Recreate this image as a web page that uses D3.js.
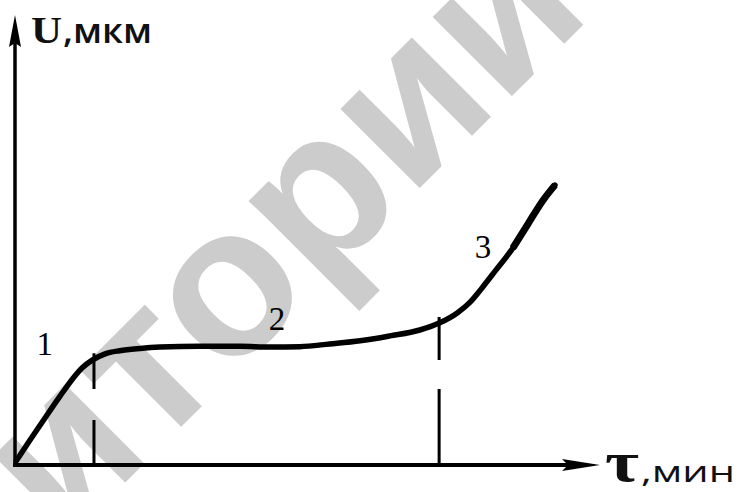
<!DOCTYPE html>
<html><head><meta charset="utf-8">
<script src="https://cdn.jsdelivr.net/npm/d3@7/dist/d3.min.js"></script>
<style>html,body{margin:0;padding:0;background:#fff;}svg{display:block;}</style>
</head><body>
<svg id="c" width="740" height="492"></svg>
<script>
// ---- data (time τ, wear U, arbitrary units) ----
const tau  = [0.2, 2.6, 5.1, 7.7, 9.7, 11.5, 13.2, 15.4, 17.9, 21.4, 24.8, 31.6, 38.5, 43.6, 48.7, 53.8, 59.0, 64.1, 69.2, 72.6, 75.6, 77.8, 79.8, 82.2, 85.1, 87.7, 90.3, 92.3];
const wear = [0.9, 5.6, 10.4, 15.3, 18.9, 21.6, 23.3, 24.7, 25.4, 25.9, 26.2, 26.4, 26.4, 26.2, 26.3, 26.9, 27.6, 28.7, 30.0, 31.6, 33.8, 36.2, 39.3, 43.3, 48.2, 53.6, 58.9, 62.2];
const stageBounds = [13.5, 72.5];          // vertical dashed lines
const stageLabels = ["1", "2", "3"];
const stageLabelTau  = [5.1, 44.8, 80.0];
const stageLabelWear = [24.4, 30.0, 46.0];
const xAxisMax = 100, yAxisMax = 100;
const yLabel = ["U", ",мкм"];
const xLabel = ["τ", ",мин"];
const watermark = "Репозиторий";

const svg = d3.select("#c");
const x = d3.scaleLinear().domain([0, 100]).range([15, 600]);
const y = d3.scaleLinear().domain([0, 100]).range([465, 15]);

// ---- watermark ----
const wmSize = 212;
const wm = svg.append("text")
  .attr("font-family", "Liberation Sans, Arial, sans-serif")
  .attr("font-weight", "bold")
  .attr("font-size", wmSize)
  .attr("fill", "#cccccc")
  .text(watermark);
{
  const node = wm.node();
  const idx = 7; // second "о"
  const before = node.getSubStringLength(0, idx);
  const w = node.getSubStringLength(idx, 1);
  const cx = before + w / 2, cy = -wmSize * 0.26;
  const ang = -45;
  const targetX = 233, targetY = 297;
  const r = ang * Math.PI / 180;
  const rx = cx * Math.cos(r) - cy * Math.sin(r);
  const ry = cx * Math.sin(r) + cy * Math.cos(r);
  wm.attr("transform", `translate(${targetX - rx},${targetY - ry}) rotate(${ang})`);
}

// ---- axes ----
svg.append("line")
  .attr("x1", x(0)).attr("y1", y(0) + 2).attr("x2", x(0)).attr("y2", y(yAxisMax) + 20)
  .attr("stroke", "#000").attr("stroke-width", 3.5);
svg.append("path")
  .attr("d", `M${x(0)},${y(yAxisMax)} L${x(0)+6},${y(yAxisMax)+32} L${x(0)},${y(yAxisMax)+28} L${x(0)-6},${y(yAxisMax)+32} Z`)
  .attr("fill", "#000");
svg.append("line")
  .attr("x1", x(0) - 2).attr("y1", y(0)).attr("x2", x(xAxisMax) - 20).attr("y2", y(0))
  .attr("stroke", "#000").attr("stroke-width", 4);
svg.append("path")
  .attr("d", `M${x(xAxisMax)},${y(0)} L${x(xAxisMax)-38},${y(0)-6} L${x(xAxisMax)-32},${y(0)} L${x(xAxisMax)-38},${y(0)+6} Z`)
  .attr("fill", "#000");

// ---- dashed stage boundaries ----
const interp = t => {
  for (let i = 1; i < tau.length; i++) if (tau[i] >= t) {
    const f = (t - tau[i-1]) / (tau[i] - tau[i-1]);
    return wear[i-1] + f * (wear[i] - wear[i-1]);
  }
  return wear[wear.length-1];
};
const dashes = ["45,31,60", "76,29,60"];
svg.selectAll("line.stage").data(stageBounds).join("line")
  .attr("class", "stage")
  .attr("x1", d => x(d)).attr("x2", d => x(d))
  .attr("y1", y(0)).attr("y2", d => y(interp(d)) - 6)
  .attr("stroke", "#000").attr("stroke-width", 3)
  .attr("stroke-dasharray", (d, i) => dashes[i]);

// ---- curve ----
const pts = tau.map((t, i) => [t, wear[i]]);
const line = d3.line().x(d => x(d[0])).y(d => y(d[1])).curve(d3.curveMonotoneX);
svg.append("path").attr("d", line(pts))
  .attr("fill", "none").attr("stroke", "#000").attr("stroke-width", 5.5)
  .attr("stroke-linecap", "round");
svg.append("path").attr("d", line(pts.slice(-4)))
  .attr("fill", "none").attr("stroke", "#000").attr("stroke-width", 7)
  .attr("stroke-linecap", "butt");

// ---- stage labels ----
svg.selectAll("text.stg").data(stageLabels).join("text")
  .attr("class", "stg")
  .attr("x", (d, i) => x(stageLabelTau[i])).attr("y", (d, i) => y(stageLabelWear[i]))
  .attr("text-anchor", "middle")
  .attr("font-family", "Liberation Serif, Times New Roman, serif")
  .attr("font-size", 33).attr("fill", "#000")
  .text(d => d);

// ---- axis titles ----
svg.append("text").attr("x", 31).attr("y", 43)
  .attr("font-family", "Liberation Serif, serif").attr("font-size", 38).attr("font-weight", "bold")
  .attr("textLength", 31).attr("lengthAdjust", "spacingAndGlyphs")
  .attr("fill", "#111").text(yLabel[0]);
svg.append("text").attr("x", 63).attr("y", 43)
  .attr("font-family", "Open Sans, sans-serif").attr("font-size", 34).attr("font-weight", 600)
  .attr("textLength", 89).attr("lengthAdjust", "spacingAndGlyphs")
  .attr("fill", "#111").text(yLabel[1]);

svg.append("text").attr("x", 605).attr("y", 481)
  .attr("font-family", "Liberation Serif, serif").attr("font-size", 56).attr("font-weight", "bold")
  .attr("textLength", 34).attr("lengthAdjust", "spacingAndGlyphs")
  .attr("fill", "#111").text(xLabel[0]);
svg.append("text").attr("x", 641).attr("y", 482)
  .attr("font-family", "Open Sans, sans-serif").attr("font-size", 29)
  .attr("textLength", 94).attr("lengthAdjust", "spacingAndGlyphs")
  .attr("fill", "#111").text(xLabel[1]);
</script>
</body></html>
